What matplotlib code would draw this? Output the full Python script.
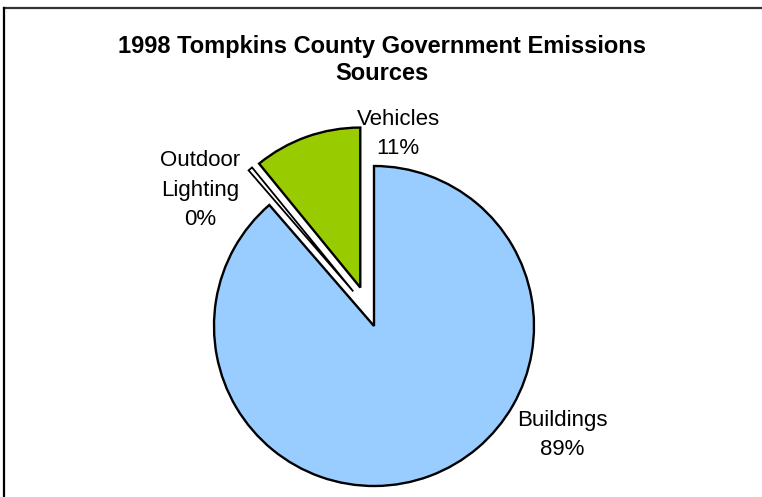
import matplotlib
matplotlib.use('Agg')
import matplotlib.pyplot as plt
from matplotlib.lines import Line2D
from matplotlib.transforms import ScaledTranslation

plt.rcParams['font.family'] = ['Liberation Sans', 'DejaVu Sans']

# data (counter-clockwise from 12 o'clock)
sources = ['Vehicles', 'Outdoor\nLighting', 'Buildings']
shares = [10.9, 0.45, 88.65]
colors = ['#99CC00', 'white', '#99CCFF']
explode = [0.255, 0.25, 0.0]

W, H = 762, 497
fig = plt.figure(figsize=(W / 100, H / 100), dpi=100)

# frame lines (top and left, like the original export)
fig.add_artist(Line2D([4 / W, 1], [1 - 7.5 / H, 1 - 7.5 / H], color='#333333', lw=1.6,
                      transform=fig.transFigure))
fig.add_artist(Line2D([4 / W, 4 / W], [0, 1 - 7.5 / H], color='black', lw=1.6,
                      transform=fig.transFigure))

# pie axes: center at (374, 326) px from top-left, radius 160 px
cx, cy, r = 374, H - 326, 160
half = 1.25 * r
ax = fig.add_axes([(cx - half) / W, (cy - half) / H, 2 * half / W, 2 * half / H])
wedges, _ = ax.pie(shares, colors=colors, explode=explode, startangle=90,
                   counterclock=True,
                   wedgeprops=dict(edgecolor='black', linewidth=1.7))
# nudge the thin lighting sliver into the middle of the gap
wedges[1].set_linewidth(1.3)
wedges[1].set_transform(wedges[1].get_transform()
                        + ScaledTranslation(0.05, 0.04, fig.dpi_scale_trans))
ax.set_xlim(-1.25, 1.25)
ax.set_ylim(-1.25, 1.25)
ax.set_aspect('equal')
ax.axis('off')

# labels
label_pos = [(398, 134), (200, 190), (562, 435)]
for name, val, (px, py) in zip(sources, shares, label_pos):
    fig.text(px / W, 1 - py / H, f'{name}\n{val:.0f}%', ha='center', va='center',
             fontsize=16, linespacing=1.55)

fig.text(382 / W, 1 - 60 / H, '1998 Tompkins County Government Emissions\nSources',
         ha='center', va='center', fontsize=17, fontweight='bold', linespacing=1.25)

fig.savefig('out.png', dpi=100)
